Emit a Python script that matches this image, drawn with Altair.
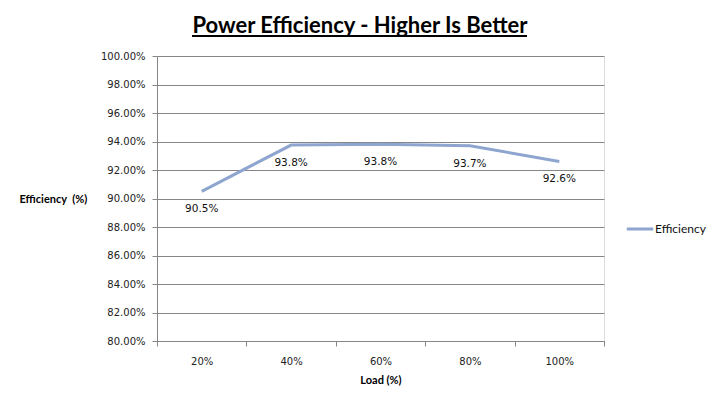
import altair as alt
import pandas as pd

loads = ["20%", "40%", "60%", "80%", "100%"]
efficiency = [0.905, 0.9375, 0.938, 0.937, 0.926]
labels = ["90.5%", "93.8%", "93.8%", "93.7%", "92.6%"]
series = ["Efficiency"] * 5
y_ticks = [0.80, 0.82, 0.84, 0.86, 0.88, 0.90, 0.92, 0.94, 0.96, 0.98, 1.00]
title_text = "Power Efficiency - Higher Is Better"

df = pd.DataFrame({"Load": loads, "Efficiency": efficiency, "label": labels, "series": series})

PLOT_W = 447
PLOT_H = 285
GRAY = "#868686"
LINE = "#8EA5CF"

x_enc = alt.X(
    "Load:N",
    sort=loads,
    scale=alt.Scale(paddingInner=0, paddingOuter=0),
    axis=alt.Axis(
        title="Load (%)",
        labelAngle=0,
        tickBand="extent",
        labelFont="DejaVu Sans",
        labelFontSize=10,
        labelColor="#222222",
        labelPadding=10,
        titleFont="Lato",
        titleFontSize=11,
        titleFontWeight="bold",
        titlePadding=8,
        tickSize=5,
        tickColor=GRAY,
        domainColor=GRAY,
        grid=False,
    ),
)

y_enc = alt.Y(
    "Efficiency:Q",
    scale=alt.Scale(domain=[0.80, 1.00], nice=False, zero=False),
    axis=alt.Axis(
        values=y_ticks,
        tickCount=20,
        labelOverlap=False,
        format=".2%",
        title="Efficiency\u00a0 (%)",
        titleAngle=0,
        titleAlign="left",
        titleBaseline="middle",
        titleX=-138,
        titleY=143,
        titleFont="Lato",
        titleFontSize=11,
        titleFontWeight="bold",
        labelFont="DejaVu Sans",
        labelFontSize=10,
        labelColor="#222222",
        labelPadding=7,
        tickSize=5,
        tickColor=GRAY,
        domainColor=GRAY,
        grid=True,
        gridColor=GRAY,
        gridWidth=1,
    ),
)

base = alt.Chart(df)

line = base.mark_line(strokeWidth=3).encode(
    x=x_enc,
    y=y_enc,
    color=alt.Color(
        "series:N",
        scale=alt.Scale(range=[LINE]),
        legend=alt.Legend(
            title=None,
            orient="none",
            legendX=468,
            legendY=158,
            symbolType="stroke",
            symbolSize=700,
            symbolStrokeWidth=3,
            labelFont="Lato",
            labelFontSize=12,
            labelColor="#111111",
            padding=0,
            labelOffset=0,
        ),
    ),
)

text = base.mark_text(
    dy=18, font="DejaVu Sans", fontSize=10.5, color="#111111"
).encode(
    x=alt.X("Load:N", sort=loads),
    y="Efficiency:Q",
    text="label:N",
)

title_df = pd.DataFrame({"t": [title_text]})
title = alt.Chart(title_df).mark_text(
    font="Lato", fontSize=22, fontWeight="bold", color="#000000", baseline="alphabetic"
).encode(text="t:N", x=alt.value(203), y=alt.value(-23))

underline = alt.Chart(title_df).mark_rule(color="#000000", strokeWidth=2).encode(
    x=alt.value(35), x2=alt.value(370), y=alt.value(-20)
)

chart = alt.layer(line, text, title, underline).properties(
    width=PLOT_W,
    height=PLOT_H,
    autosize=alt.AutoSizeParams(type="none"),
    padding={"left": 149, "top": 48, "right": 108, "bottom": 55},
).configure_view(stroke=None).configure(background="white")

chart.save("out.html", embed_options={"renderer": "svg", "actions": False})
